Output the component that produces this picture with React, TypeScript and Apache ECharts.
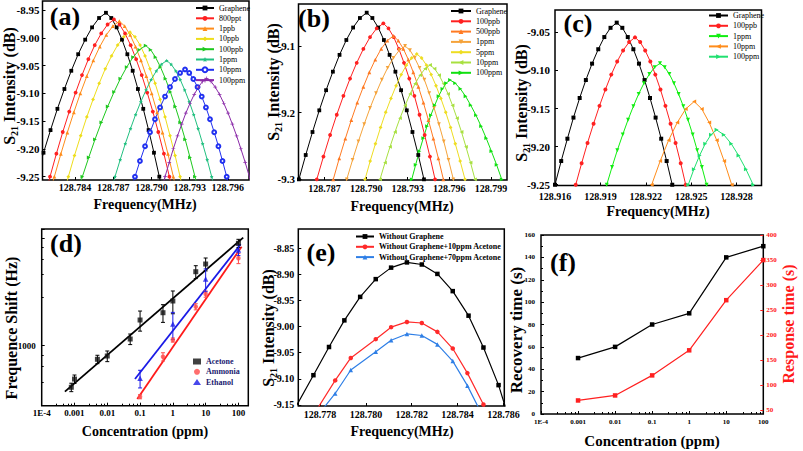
import React, { useEffect, useRef } from 'react';
import * as echarts from 'echarts';

const FONT = "'Times New Roman','Liberation Serif',serif";

// ---------- (a) ----------
const aLabels = ['Graphene', '800ppt', '1ppb', '10ppb', '100ppb', '1ppm', '10ppm', '100ppm'];
const aGrapheneF = [128.78045, 128.78099, 128.78153, 128.78208, 128.78262, 128.78317, 128.78371, 128.78425, 128.7848, 128.78534, 128.78589, 128.78643, 128.78685, 128.78727, 128.78769, 128.78811, 128.78853, 128.78894, 128.78936, 128.78978, 128.7902, 128.79062, 128.79104];
const aGrapheneV = [-9.2954, -9.25, -9.2069, -9.1662, -9.1279, -9.0922, -9.0594, -9.0296, -9.0034, -8.9813, -8.9644, -8.955, -8.9644, -8.9813, -9.0034, -9.0296, -9.0594, -9.0922, -9.1279, -9.1662, -9.2069, -9.25, -9.2954];
const a800pptF = [128.78154, 128.78204, 128.78254, 128.78304, 128.78355, 128.78405, 128.78455, 128.78505, 128.78555, 128.78606, 128.78656, 128.78706, 128.7875, 128.78793, 128.78837, 128.7888, 128.78924, 128.78967, 128.79011, 128.79054, 128.79098, 128.79141, 128.79185];
const a800pptV = [-9.2936, -9.25, -9.2087, -9.1696, -9.1328, -9.0986, -9.0672, -9.0386, -9.0134, -8.9922, -8.9761, -8.967, -8.9761, -8.9922, -9.0134, -9.0386, -9.0672, -9.0986, -9.1328, -9.1696, -9.2087, -9.25, -9.2936];
const a1ppbF = [128.78187, 128.78238, 128.78289, 128.7834, 128.78391, 128.78442, 128.78493, 128.78544, 128.78595, 128.78646, 128.78697, 128.78748, 128.7879, 128.78833, 128.78875, 128.78918, 128.7896, 128.79002, 128.79045, 128.79087, 128.7913, 128.79172, 128.79214];
const a1ppbV = [-9.2931, -9.25, -9.2091, -9.1705, -9.1341, -9.1002, -9.0691, -9.0408, -9.0159, -8.9949, -8.979, -8.97, -8.979, -8.9949, -9.0159, -9.0408, -9.0691, -9.1002, -9.1341, -9.1705, -9.2091, -9.25, -9.2931];
const a10ppbF = [128.783, 128.78348, 128.78396, 128.78445, 128.78493, 128.78542, 128.7859, 128.78638, 128.78687, 128.78735, 128.78784, 128.78832, 128.78871, 128.78911, 128.7895, 128.78989, 128.79029, 128.79068, 128.79107, 128.79146, 128.79186, 128.79225, 128.79264];
const a10ppbV = [-9.29, -9.25, -9.212, -9.1762, -9.1424, -9.1109, -9.082, -9.0558, -9.0326, -9.0131, -8.9983, -8.99, -8.9983, -9.0131, -9.0326, -9.0558, -9.082, -9.1109, -9.1424, -9.1762, -9.212, -9.25, -9.29];
const a100ppbF = [128.78408, 128.78458, 128.78508, 128.78557, 128.78607, 128.78657, 128.78707, 128.78756, 128.78806, 128.78856, 128.78905, 128.78955, 128.78994, 128.79032, 128.79071, 128.7911, 128.79149, 128.79187, 128.79226, 128.79265, 128.79303, 128.79342, 128.79381];
const a100ppbV = [-9.2863, -9.25, -9.2155, -9.183, -9.1523, -9.1237, -9.0975, -9.0737, -9.0527, -9.035, -9.0216, -9.014, -9.0216, -9.035, -9.0527, -9.0737, -9.0975, -9.1237, -9.1523, -9.183, -9.2155, -9.25, -9.2863];
const a1ppmF = [128.78673, 128.78714, 128.78755, 128.78795, 128.78836, 128.78876, 128.78917, 128.78958, 128.78998, 128.79039, 128.79079, 128.7912, 128.79155, 128.79191, 128.79226, 128.79261, 128.79297, 128.79332, 128.79367, 128.79402, 128.79438, 128.79473, 128.79508];
const a1ppmV = [-9.2822, -9.25, -9.2195, -9.1906, -9.1635, -9.1382, -9.115, -9.0939, -9.0753, -9.0596, -9.0477, -9.041, -9.0477, -9.0596, -9.0753, -9.0939, -9.115, -9.1382, -9.1635, -9.1906, -9.2195, -9.25, -9.2822];
const a10ppmF = [128.78832, 128.78871, 128.7891, 128.7895, 128.78989, 128.79028, 128.79068, 128.79107, 128.79146, 128.79185, 128.79225, 128.79264, 128.79297, 128.79329, 128.79362, 128.79395, 128.79428, 128.7946, 128.79493, 128.79526, 128.79558, 128.79591, 128.79624];
const a10ppmV = [-9.2797, -9.25, -9.2218, -9.1952, -9.1701, -9.1467, -9.1253, -9.1058, -9.0887, -9.0742, -9.0632, -9.057, -9.0632, -9.0742, -9.0887, -9.1058, -9.1253, -9.1467, -9.1701, -9.1952, -9.2218, -9.25, -9.2797];
const a100ppmF = [128.79074, 128.79107, 128.7914, 128.79172, 128.79205, 128.79238, 128.7927, 128.79303, 128.79336, 128.79369, 128.79401, 128.79434, 128.79468, 128.79501, 128.79535, 128.79568, 128.79602, 128.79635, 128.79669, 128.79702, 128.79736, 128.79769, 128.79803];
const a100ppmV = [-9.2773, -9.25, -9.2242, -9.1997, -9.1767, -9.1553, -9.1357, -9.1178, -9.102, -9.0888, -9.0787, -9.073, -9.0787, -9.0888, -9.102, -9.1178, -9.1357, -9.1553, -9.1767, -9.1997, -9.2242, -9.25, -9.2773];
const aXTicks = [128.784, 128.787, 128.79, 128.793, 128.796];
const aYTicks = [-9.25, -9.2, -9.15, -9.1, -9.05, -9.0, -8.95];

// ---------- (b) ----------
const bLabels = ['Graphene', '100ppb', '500ppb', '1ppm', '5ppm', '10ppm', '100ppm'];
const bGrapheneF = [128.78466, 128.78515, 128.78564, 128.78613, 128.78662, 128.78711, 128.7876, 128.78808, 128.78857, 128.78906, 128.78955, 128.79004, 128.79045, 128.79087, 128.79128, 128.79169, 128.79211, 128.79252, 128.79293, 128.79334, 128.79376, 128.79417, 128.79458];
const bGrapheneV = [-9.3385, -9.3, -9.2635, -9.229, -9.1965, -9.1663, -9.1385, -9.1133, -9.091, -9.0723, -9.058, -9.05, -9.058, -9.0723, -9.091, -9.1133, -9.1385, -9.1663, -9.1965, -9.229, -9.2635, -9.3, -9.3385];
const b100ppbF = [128.78596, 128.78644, 128.78692, 128.7874, 128.78788, 128.78836, 128.78884, 128.78932, 128.7898, 128.79028, 128.79076, 128.79124, 128.79161, 128.79199, 128.79236, 128.79273, 128.79311, 128.79348, 128.79385, 128.79422, 128.7946, 128.79497, 128.79534];
const b100ppbV = [-9.336, -9.3, -9.2658, -9.2335, -9.2031, -9.1748, -9.1488, -9.1252, -9.1044, -9.0868, -9.0735, -9.066, -9.0735, -9.0868, -9.1044, -9.1252, -9.1488, -9.1748, -9.2031, -9.2335, -9.2658, -9.3, -9.336];
const b500ppbF = [128.7872, 128.78763, 128.78806, 128.7885, 128.78893, 128.78936, 128.7898, 128.79023, 128.79066, 128.79109, 128.79153, 128.79196, 128.79232, 128.79268, 128.79304, 128.7934, 128.79377, 128.79413, 128.79449, 128.79485, 128.79521, 128.79557, 128.79593];
const b500ppbV = [-9.3331, -9.3, -9.2686, -9.2389, -9.211, -9.185, -9.1611, -9.1394, -9.1203, -9.1041, -9.0919, -9.085, -9.0919, -9.1041, -9.1203, -9.1394, -9.1611, -9.185, -9.211, -9.2389, -9.2686, -9.3, -9.3331];
const b1ppmF = [128.78818, 128.7886, 128.78902, 128.78944, 128.78986, 128.79028, 128.79071, 128.79113, 128.79155, 128.79197, 128.79239, 128.79281, 128.79316, 128.7935, 128.79385, 128.7942, 128.79455, 128.7949, 128.79525, 128.7956, 128.79594, 128.79629, 128.79664];
const b1ppmV = [-9.3308, -9.3, -9.2708, -9.2432, -9.2172, -9.193, -9.1708, -9.1506, -9.1328, -9.1178, -9.1064, -9.1, -9.1064, -9.1178, -9.1328, -9.1506, -9.1708, -9.193, -9.2172, -9.2432, -9.2708, -9.3, -9.3308];
const b5ppmF = [128.78955, 128.78992, 128.79029, 128.79067, 128.79104, 128.79141, 128.79179, 128.79216, 128.79253, 128.7929, 128.79328, 128.79365, 128.794, 128.79435, 128.79469, 128.79504, 128.79539, 128.79574, 128.79609, 128.79643, 128.79678, 128.79713, 128.79748];
const b5ppmV = [-9.329, -9.3, -9.2726, -9.2466, -9.2222, -9.1994, -9.1786, -9.1596, -9.1428, -9.1287, -9.118, -9.112, -9.118, -9.1287, -9.1428, -9.1596, -9.1786, -9.1994, -9.2222, -9.2466, -9.2726, -9.3, -9.329];
const b10ppmF = [128.79064, 128.791, 128.79136, 128.79172, 128.79208, 128.79244, 128.79281, 128.79317, 128.79353, 128.79389, 128.79425, 128.79461, 128.79493, 128.79526, 128.79558, 128.79591, 128.79623, 128.79655, 128.79688, 128.7972, 128.79753, 128.79785, 128.79817];
const b10ppmV = [-9.3264, -9.3, -9.275, -9.2513, -9.229, -9.2082, -9.1892, -9.1719, -9.1566, -9.1438, -9.134, -9.1285, -9.134, -9.1438, -9.1566, -9.1719, -9.1892, -9.2082, -9.229, -9.2513, -9.275, -9.3, -9.3264];
const b100ppmF = [128.79301, 128.79329, 128.79357, 128.79384, 128.79412, 128.79439, 128.79467, 128.79495, 128.79522, 128.7955, 128.79577, 128.79605, 128.79642, 128.7968, 128.79717, 128.79754, 128.79792, 128.79829, 128.79866, 128.79903, 128.79941, 128.79978, 128.80015];
const b100ppmV = [-9.3229, -9.3, -9.2782, -9.2577, -9.2383, -9.2203, -9.2037, -9.1887, -9.1754, -9.1643, -9.1558, -9.151, -9.1558, -9.1643, -9.1754, -9.1887, -9.2037, -9.2203, -9.2383, -9.2577, -9.2782, -9.3, -9.3229];
const bXTicks = [128.787, 128.79, 128.793, 128.796, 128.799];
const bYTicks = [-9.3, -9.2, -9.1];

// ---------- (c) ----------
const cLabels = ['Graphene', '100ppb', '1ppm', '10ppm', '100ppm'];
const cGrapheneF = [128.91559, 128.916, 128.91641, 128.91682, 128.91722, 128.91763, 128.91804, 128.91845, 128.91886, 128.91926, 128.91967, 128.92008, 128.92045, 128.92081, 128.92118, 128.92155, 128.92192, 128.92228, 128.92265, 128.92302, 128.92338, 128.92375, 128.92412];
const cGrapheneV = [-9.2828, -9.25, -9.2189, -9.1896, -9.1619, -9.1362, -9.1126, -9.0911, -9.0722, -9.0562, -9.0441, -9.0373, -9.0441, -9.0562, -9.0722, -9.0911, -9.1126, -9.1362, -9.1619, -9.1896, -9.2189, -9.25, -9.2828];
const c100ppbF = [128.91698, 128.91737, 128.91776, 128.91815, 128.91855, 128.91894, 128.91933, 128.91972, 128.92011, 128.9205, 128.9209, 128.92129, 128.92163, 128.92196, 128.9223, 128.92263, 128.92297, 128.9233, 128.92364, 128.92397, 128.92431, 128.92464, 128.92498];
const c100ppbV = [-9.2798, -9.25, -9.2218, -9.1951, -9.1699, -9.1465, -9.1251, -9.1055, -9.0883, -9.0738, -9.0628, -9.0566, -9.0628, -9.0738, -9.0883, -9.1055, -9.1251, -9.1465, -9.1699, -9.1951, -9.2218, -9.25, -9.2798];
const c1ppmF = [128.91907, 128.91942, 128.91977, 128.92012, 128.92048, 128.92083, 128.92118, 128.92153, 128.92188, 128.92224, 128.92259, 128.92294, 128.92325, 128.92356, 128.92386, 128.92417, 128.92448, 128.92479, 128.9251, 128.9254, 128.92571, 128.92602, 128.92633];
const c1ppmV = [-9.2745, -9.25, -9.2267, -9.2047, -9.184, -9.1647, -9.147, -9.1309, -9.1167, -9.1048, -9.0957, -9.0906, -9.0957, -9.1048, -9.1167, -9.1309, -9.147, -9.1647, -9.184, -9.2047, -9.2267, -9.25, -9.2745];
const c10ppmF = [128.92211, 128.92239, 128.92295, 128.92351, 128.92408, 128.92464, 128.9252, 128.9257, 128.92619, 128.92669, 128.92718, 128.92768, 128.92793];
const c10ppmV = [-9.2668, -9.25, -9.219, -9.1916, -9.1684, -9.1505, -9.1408, -9.1505, -9.1684, -9.1916, -9.219, -9.25, -9.2668];
const c100ppmF = [128.92462, 128.92481, 128.92518, 128.92556, 128.92593, 128.92631, 128.92668, 128.92716, 128.92765, 128.92813, 128.92862, 128.9291, 128.92934];
const c100ppmV = [-9.2611, -9.25, -9.2296, -9.2115, -9.1962, -9.1844, -9.178, -9.1844, -9.1962, -9.2115, -9.2296, -9.25, -9.2611];
const cXTicks = [128.916, 128.919, 128.922, 128.925, 128.928];
const cYTicks = [-9.25, -9.2, -9.15, -9.1, -9.05];

// ---------- (d) ----------
const dLabels = ['Acetone', 'Ammonia', 'Ethanol'];
const acetoneX = [0.0008, 0.001, 0.005, 0.01, 0.05, 0.1, 0.5, 1, 5, 10, 100];
const acetoneY = [411, 490, 748, 802, 1154, 1733, 2026, 2603, 4872, 5744, 8946];
const acetoneErr = [37, 44, 67, 91, 130, 367, 379, 622, 667, 787, 796];
const ammoniaX = [0.1, 0.5, 1, 5, 10, 100];
const ammoniaY = [336, 790, 1130, 2304, 3023, 6490];
const ammoniaErr = [15, 70, 50, 150, 200, 700];
const ethanolX = [0.1, 1, 10, 100];
const ethanolY = [498, 1591, 4169, 7750];
const ethanolErr = [93, 450, 1000, 876];
const acetoneFit = [[0.00051, 374], [140, 10090]];
const ammoniaFit = [[0.082, 320], [125, 8318]];
const ethanolFit = [[0.07, 490], [117, 8757]];

// ---------- (e) ----------
const eLabels = ['Without Graphene', 'Without Graphene+10ppm Acetone', 'Without Graphene+70ppm Acetone'];
const eBlackF = [128.7769, 128.77771, 128.77839, 128.77906, 128.77975, 128.78043, 128.7811, 128.78179, 128.78244, 128.78312, 128.78379, 128.78448, 128.78513, 128.78579, 128.7862];
const eBlackV = [-9.157, -9.093, -9.039, -8.988, -8.943, -8.909, -8.887, -8.877, -8.881, -8.899, -8.932, -8.979, -9.04, -9.112, -9.17];
const eRedF = [128.7777, 128.77866, 128.77934, 128.78043, 128.7811, 128.78179, 128.78244, 128.78312, 128.78379, 128.78443, 128.78513, 128.7854];
const eRedV = [-9.17, -9.103, -9.06, -9.024, -9.001, -8.991, -8.993, -9.01, -9.042, -9.089, -9.149, -9.18];
const eBlueF = [128.7779, 128.77866, 128.77934, 128.78043, 128.7811, 128.78179, 128.78244, 128.78312, 128.78379, 128.78443, 128.7852];
const eBlueV = [-9.17, -9.128, -9.083, -9.048, -9.026, -9.014, -9.017, -9.034, -9.066, -9.113, -9.18];
const eXTicks = [128.778, 128.78, 128.782, 128.784, 128.786];
const eYTicks = [-9.15, -9.1, -9.05, -9.0, -8.95, -8.9, -8.85];

// ---------- (f) ----------
const fConc = [0.001, 0.01, 0.1, 1, 10, 100];
const fRecovery = [50, 60, 80, 90, 140, 150];
const fResponse = [70, 80, 120, 170, 270, 350];
const fRightTicks = [50, 100, 150, 200, 250, 300, 350, 400];

// ---------- helpers ----------
const STAR = 'path://M0,-10L2.9,-4L9.5,-3.1L4.7,1.5L5.9,8.1L0,5L-5.9,8.1L-4.7,1.5L-9.5,-3.1L-2.9,-4Z';
const PLUS = 'path://M-10,-1.8L10,-1.8L10,1.8L-10,1.8Z M-1.8,-10L1.8,-10L1.8,10L-1.8,10Z';

const zip = (f: number[], v: number[]) => f.map((x, i) => [x, v[i]]);
const withEnds = (pts: number[][]) =>
  pts.map((p, i) => (i === 0 || i === pts.length - 1 ? { value: p, symbol: 'none' } : { value: p }));

function lineS(name: string, pts: number[][], color: string, symbol: string, rot: number, idx: number, size = 3.8, ends = true, yi?: number, lw = 1) {
  return {
    type: 'line', name, xAxisIndex: idx, yAxisIndex: yi === undefined ? idx : yi,
    data: ends ? withEnds(pts) : pts,
    symbol, symbolRotate: rot, symbolSize: size, showSymbol: true, clip: true,
    lineStyle: { color, width: lw }, itemStyle: { color, borderColor: color, borderWidth: symbol === 'emptyCircle' ? 1 : 0 },
    emphasis: { disabled: true }, z: 2,
  };
}

function valAxis(gi: number, min: number, max: number, ticks: number[], digits: number, fontSize: number, margin: number, extra: any = {}) {
  return {
    type: 'value', gridIndex: gi, min, max, scale: true,
    axisLine: { show: false }, splitLine: { show: false },
    axisTick: { show: true, inside: true, length: 3, customValues: ticks, lineStyle: { color: extra.color || '#000', width: 1 } },
    axisLabel: {
      customValues: ticks, formatter: (v: number) => v.toFixed(digits), fontFamily: FONT, fontWeight: 'bold',
      fontSize, color: extra.color || '#000', margin,
    },
  };
}

const logFmt = (v: number) => {
  const e = Math.log10(v);
  const r = Math.round(e);
  if (Math.abs(e - r) > 1e-6) return '';
  if (r === -4) return '1E-4';
  return r < 0 ? Math.pow(10, r).toFixed(-r) : String(Math.pow(10, r));
};

function logAxis(gi: number, min: number, max: number, fontSize: number, margin: number, fmt: (v: number) => string) {
  return {
    type: 'log', logBase: 10, gridIndex: gi, min, max,
    axisLine: { show: false }, splitLine: { show: false },
    axisTick: { show: true, inside: true, length: 3, lineStyle: { color: '#000' } },
    minorTick: { show: true, splitNumber: 5, length: 2, lineStyle: { color: '#000' } },
    axisLabel: { formatter: fmt, fontFamily: FONT, fontWeight: 'bold', fontSize, color: '#000', margin, showMinLabel: true, showMaxLabel: true },
  };
}

function legendC(panel: string, labels: string[], left: number, top: number, itemWidth: number, extra: any = {}) {
  return {
    orient: 'vertical', left, top, padding: 0, itemWidth, itemHeight: 6, itemGap: 1.3,
    data: labels.map((l) => panel + '|' + l),
    formatter: (n: string) => n.split('|')[1],
    textStyle: { fontFamily: FONT, fontSize: 8, color: '#000', lineHeight: 9, ...(extra.text || {}) },
    selectedMode: false,
  };
}

function errS(xs: number[], ys: number[], errs: number[], color: string, idx: number) {
  return {
    type: 'custom', xAxisIndex: idx, yAxisIndex: idx, z: 3,
    data: xs.map((x, i) => [x, ys[i] - errs[i], ys[i] + errs[i]]),
    encode: { x: 0, y: [1, 2] },
    renderItem: (params: any, api: any) => {
      const x = api.value(0);
      const p1 = api.coord([x, api.value(2)]);
      const p2 = api.coord([x, api.value(1)]);
      const w = 2;
      const st = { stroke: color, lineWidth: 1 };
      return {
        type: 'group', children: [
          { type: 'line', shape: { x1: p1[0], y1: p1[1], x2: p2[0], y2: p2[1] }, style: st },
          { type: 'line', shape: { x1: p1[0] - w, y1: p1[1], x2: p1[0] + w, y2: p1[1] }, style: st },
          { type: 'line', shape: { x1: p2[0] - w, y1: p2[1], x2: p2[0] + w, y2: p2[1] }, style: st },
        ],
      };
    },
  };
}

function title(text: string, x: number, y: number, size: number, rot = false, color = '#000') {
  return {
    type: 'text', x, y, rotation: rot ? Math.PI / 2 : 0, z: 50,
    style: { text, fill: color, font: `bold ${size}px ${FONT}`, align: 'center', verticalAlign: 'middle' },
  };
}

function s21(x: number, y: number) {
  return {
    type: 'text', x, y, rotation: Math.PI / 2, z: 50,
    style: {
      text: '{b|S}{s|21}{b| Intensity (dB)}', align: 'center', verticalAlign: 'middle',
      rich: {
        b: { fontFamily: FONT, fontWeight: 'bold', fontSize: 16, lineHeight: 20, fill: '#000' },
        s: { fontFamily: FONT, fontWeight: 'bold', fontSize: 10, lineHeight: 11, verticalAlign: 'bottom', fill: '#000' },
      },
    },
  };
}

const grid = (left: number, top: number, width: number, height: number) => ({
  left, top, width, height, show: true, borderColor: '#000', borderWidth: 1.5, backgroundColor: 'transparent',
});

export default function App() {
  const ref = useRef<HTMLDivElement>(null);
  useEffect(() => {
    document.body.style.margin = '0';
    const chart = echarts.init(ref.current as HTMLDivElement, null, { renderer: 'svg' });

    const aData = [zip(aGrapheneF, aGrapheneV), zip(a800pptF, a800pptV), zip(a1ppbF, a1ppbV), zip(a10ppbF, a10ppbV), zip(a100ppbF, a100ppbV), zip(a1ppmF, a1ppmV), zip(a10ppmF, a10ppmV), zip(a100ppmF, a100ppmV)];
    const aSty = [['#000000', 'rect', 0], ['#ff2020', 'circle', 0], ['#ff8c1a', 'triangle', 0], ['#eedd1a', 'diamond', 0], ['#1ec81e', 'triangle', -90], ['#22c080', STAR, 0], ['#2030f0', 'emptyCircle', 0], ['#8a2aa8', PLUS, 0]];
    const bData = [zip(bGrapheneF, bGrapheneV), zip(b100ppbF, b100ppbV), zip(b500ppbF, b500ppbV), zip(b1ppmF, b1ppmV), zip(b5ppmF, b5ppmV), zip(b10ppmF, b10ppmV), zip(b100ppmF, b100ppmV)];
    const bSty = [['#000000', 'rect', 0], ['#ff2020', 'circle', 0], ['#ff7a22', 'triangle', 0], ['#f5a33a', 'triangle', 180], ['#eedd22', 'diamond', 0], ['#a8e040', 'triangle', 90], ['#10e010', 'triangle', -90]];
    const cData = [zip(cGrapheneF, cGrapheneV), zip(c100ppbF, c100ppbV), zip(c1ppmF, c1ppmV), zip(c10ppmF, c10ppmV), zip(c100ppmF, c100ppmV)];
    const cSty = [['#000000', 'rect', 0], ['#ff2020', 'circle', 0], ['#10ee10', 'triangle', 180], ['#ff8c1a', 'triangle', 90], ['#20e070', 'triangle', -90]];

    const series: any[] = [];
    aData.forEach((d, i) => series.push(lineS('a|' + aLabels[i], d, aSty[i][0] as string, aSty[i][1] as string, aSty[i][2] as number, 0)));
    bData.forEach((d, i) => series.push(lineS('b|' + bLabels[i], d, bSty[i][0] as string, bSty[i][1] as string, bSty[i][2] as number, 1)));
    cData.forEach((d, i) => series.push(lineS('c|' + cLabels[i], d, cSty[i][0] as string, cSty[i][1] as string, cSty[i][2] as number, 2, 4)));

    // (d)
    const fitLine = (pts: number[][], color: string) => ({
      type: 'line', xAxisIndex: 3, yAxisIndex: 3, data: pts, symbol: 'none', lineStyle: { color, width: 1.8 }, z: 1, emphasis: { disabled: true },
    });
    series.push(fitLine(acetoneFit, '#000000'), fitLine(ammoniaFit, '#ff1a1a'), fitLine(ethanolFit, '#1a1ae6'));
    series.push(errS(acetoneX, acetoneY, acetoneErr, '#000000', 3), errS(ammoniaX, ammoniaY, ammoniaErr, '#ff4a4a', 3), errS(ethanolX, ethanolY, ethanolErr, '#1a1ae6', 3));
    const scat = (name: string, xs: number[], ys: number[], color: string, symbol: string, size: number) => ({
      type: 'scatter', name, xAxisIndex: 3, yAxisIndex: 3, data: zip(xs, ys), symbol, symbolSize: size, itemStyle: { color }, z: 4, emphasis: { disabled: true },
    });
    series.push(scat('d|Acetone', acetoneX, acetoneY, '#111111', 'rect', 5), scat('d|Ammonia', ammoniaX, ammoniaY, '#ff4a4a', 'circle', 4.5), scat('d|Ethanol', ethanolX, ethanolY, '#1a1ae6', 'triangle', 5.5));

    // (e)
    series.push(lineS('e|' + eLabels[0], zip(eBlackF, eBlackV), '#000000', 'rect', 0, 4, 4.5, true, undefined, 1.2));
    series.push(lineS('e|' + eLabels[1], zip(eRedF, eRedV), '#ff2a2a', 'circle', 0, 4, 4.5, true, undefined, 1.2));
    series.push(lineS('e|' + eLabels[2], zip(eBlueF, eBlueV), '#2f7fe6', 'triangle', 0, 4, 4.5, true, undefined, 1.2));

    // (f)
    series.push(lineS('f|Recovery', zip(fConc, fRecovery), '#000000', 'rect', 0, 5, 4.5, false, 5, 1.2));
    series.push(lineS('f|Response', zip(fConc, fResponse), '#ff2020', 'rect', 0, 5, 4.5, false, 6, 1.2));

    const option: any = {
      animation: false,
      backgroundColor: '#ffffff',
      textStyle: { fontFamily: FONT },
      grid: [
        grid(42.5, 1, 206.5, 179),
        grid(298.5, 4, 208.5, 176),
        grid(555, 10, 206.5, 175.5),
        grid(41.7, 229, 206.6, 176.7),
        grid(298.3, 229, 206, 177),
        grid(541, 235, 222.3, 179),
      ],
      xAxis: [
        valAxis(0, 128.78145, 128.79766, aXTicks, 3, 10, 2),
        valAxis(1, 128.78512, 128.80016, bXTicks, 3, 10, 3),
        valAxis(2, 128.916, 128.92965, cXTicks, 3, 10, 5.5),
        logAxis(3, 0.0001, 200, 9, 3, logFmt),
        valAxis(4, 128.77705, 128.78604, eXTicks, 3, 10, 3),
        logAxis(5, 0.0001, 100, 7, 4, logFmt),
      ],
      yAxis: [
        valAxis(0, -9.256, -8.9338, aYTicks, 2, 11, 3),
        valAxis(1, -9.301, -9.037, bYTicks, 1, 11, 3.5),
        valAxis(2, -9.251, -9.0207, cYTicks, 2, 11, 5),
        logAxis(3, 277, 12150, 9, 6, (v: number) => (Math.abs(Math.log10(v) - 3) < 1e-6 ? '1000' : '')),
        valAxis(4, -9.152, -8.813, eYTicks, 2, 10, 4),
        {
          type: 'value', gridIndex: 5, min: 0, max: 160, interval: 20,
          axisLine: { show: false }, splitLine: { show: false },
          axisTick: { show: true, inside: true, length: 3, lineStyle: { color: '#000' } },
          minorTick: { show: true, splitNumber: 2, length: 2, lineStyle: { color: '#000' } },
          axisLabel: { fontFamily: FONT, fontWeight: 'bold', fontSize: 7, color: '#000', margin: 6 },
        },
        {
          ...valAxis(5, 43, 400, fRightTicks, 0, 7, 3, { color: '#ff2020' }),
          position: 'right',
        },
      ],
      legend: [
        legendC('a', aLabels, 195, 3.5, 18),
        legendC('b', bLabels, 450, 6.5, 20),
        legendC('c', cLabels, 708, 11, 19),
        legendC('d', dLabels, 193, 357, 8, { text: { fontWeight: 'bold', color: '#1a1a70' } }),
        legendC('e', eLabels, 355, 232, 18, { text: { fontWeight: 'bold' } }),
      ],
      series,
      graphic: [
        title('(a)', 65, 16, 26), title('(b)', 314, 18, 26), title('(c)', 578, 23, 26),
        title('(d)', 66, 243, 26), title('(e)', 321, 252, 26), title('(f)', 563, 262, 26),
        title('Frequency(MHz)', 145, 204, 14), s21(9, 86),
        title('Frequency(MHz)', 402, 206, 14), s21(273, 82),
        title('Frequency(MHz)', 658, 211, 14), s21(521, 103),
        title('Concentration (ppm)', 145, 431, 14), title('Frequence Shift (Hz)', 11, 328, 16, true),
        title('Frequency(MHz)', 402, 431, 14), s21(268, 328),
        title('Concentration (ppm)', 652, 441, 15), title('Recovery time (s)', 516, 330, 17, true),
        title('Response time (s)', 788, 324, 16, true, '#ff1a1a'),
      ],
    };
    chart.setOption(option);
    return () => chart.dispose();
  }, []);
  return <div ref={ref} style={{ width: 803, height: 451 }} />;
}
